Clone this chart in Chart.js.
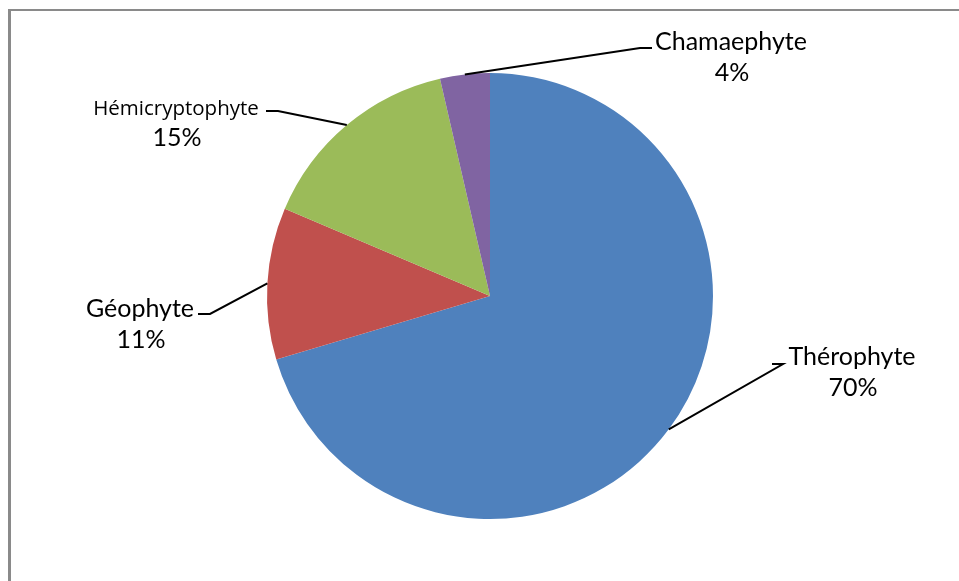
<!DOCTYPE html>
<html>
<head>
<meta charset="utf-8">
<script src="https://cdn.jsdelivr.net/npm/chart.js@4/dist/chart.umd.min.js"></script>
<style>
html,body{margin:0;padding:0;background:#fff;}
#wrap{position:relative;width:959px;height:581px;}
</style>
</head>
<body>
<div id="wrap"><canvas id="c" width="959" height="581"></canvas></div>
<script>
const categories = ["Thérophyte", "Géophyte", "Hémicryptophyte", "Chamaephyte"];
const values = [70.4, 11.0, 15.0, 3.6];
const percentLabels = ["70%", "11%", "15%", "4%"];
const colors = ["#4F81BD", "#C0504D", "#9BBB59", "#8064A2"];

// label layout: text centre x, first baseline y, elbow point, end of leader, name font
const labelLayout = [
  {cx: 852, by: 365, ex: 783, ey: 364, hx: 772, font: '400 25px Lato, sans-serif'},
  {cx: 140, by: 317, ex: 210, ey: 314, hx: 198, font: '400 25px Lato, sans-serif'},
  {cx: 176, by: 115, ex: 278, ey: 111, hx: 266, font: '400 20.5px "Open Sans", sans-serif'},
  {cx: 731, by: 50,  ex: 640, ey: 48,  hx: 652, font: '400 25px Lato, sans-serif'}
];

const framePlugin = {
  id: 'frame',
  beforeDraw(chart) {
    const ctx = chart.ctx;
    ctx.save();
    ctx.fillStyle = '#8a8a8a';
    ctx.fillRect(8, 9, 3, 581);
    ctx.fillRect(8, 9, 951, 2);
    ctx.restore();
  }
};

const labelPlugin = {
  id: 'pieLabels',
  afterDatasetsDraw(chart) {
    const ctx = chart.ctx;
    const meta = chart.getDatasetMeta(0);
    ctx.save();
    meta.data.forEach((arc, i) => {
      const L = labelLayout[i];
      const mid = (arc.startAngle + arc.endAngle) / 2;
      const ax = arc.x + Math.cos(mid) * arc.outerRadius;
      const ay = arc.y + Math.sin(mid) * arc.outerRadius;
      ctx.strokeStyle = '#000';
      ctx.lineWidth = 2;
      ctx.beginPath();
      ctx.moveTo(ax, ay);
      ctx.lineTo(L.ex, L.ey);
      ctx.lineTo(L.hx, L.ey);
      ctx.stroke();
      ctx.fillStyle = '#000';
      ctx.textAlign = 'center';
      ctx.textBaseline = 'alphabetic';
      ctx.font = L.font;
      ctx.fillText(categories[i], L.cx, L.by);
      ctx.font = '400 25px Lato, sans-serif';
      ctx.fillText(percentLabels[i], L.cx + 1, L.by + 31);
    });
    ctx.restore();
  }
};

new Chart(document.getElementById('c'), {
  type: 'pie',
  data: {
    labels: categories,
    datasets: [{
      data: values,
      backgroundColor: colors,
      borderWidth: 0,
      hoverOffset: 0,
      offset: 0
    }]
  },
  options: {
    responsive: false,
    animation: false,
    rotation: 0,
    layout: {padding: {left: 100, right: 79, top: 73, bottom: 62}},
    plugins: {
      legend: {display: false},
      tooltip: {enabled: false},
      title: {display: false}
    },
    events: []
  },
  plugins: [framePlugin, labelPlugin]
});
</script>
</body>
</html>
